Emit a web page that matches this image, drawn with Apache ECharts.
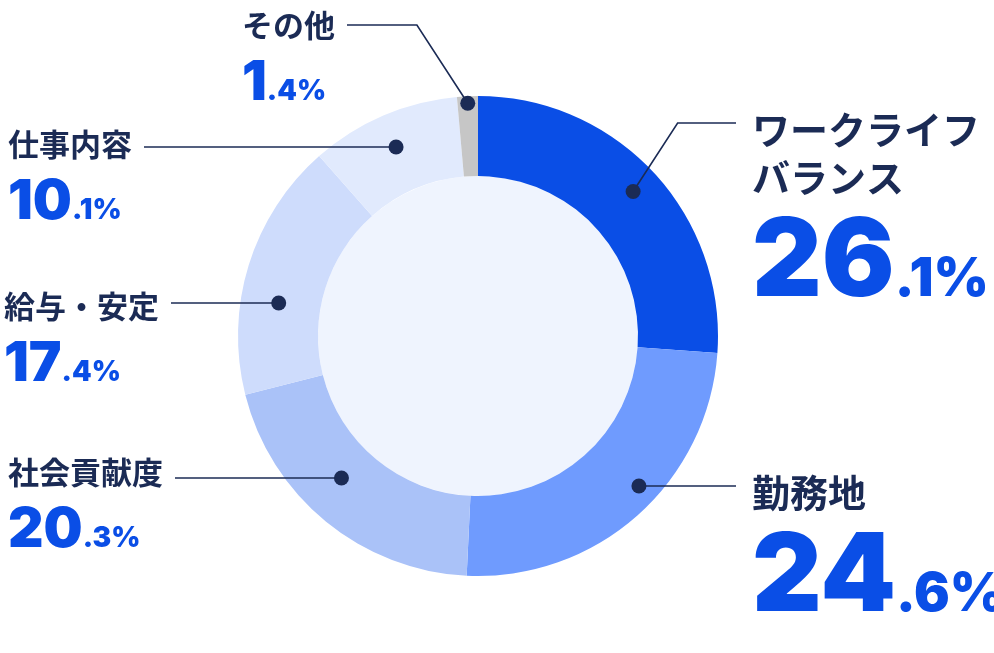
<!DOCTYPE html>
<html><head><meta charset="utf-8">
<script src="https://cdn.jsdelivr.net/npm/echarts@6/dist/echarts.min.js"></script>
<style>html,body{margin:0;padding:0;background:#fff}#c{width:994px;height:653px}</style>
</head><body><div id="c"></div>
<script>
// ---- data ----
const categories = ['ワークライフ\nバランス', '勤務地', '社会貢献度', '給与・安定', '仕事内容', 'その他'];
const values = [26.1, 24.6, 20.3, 17.4, 10.1, 1.4];
const sliceColors = ['#0A4EE6', '#6F9BFE', '#AAC2F8', '#CEDCFC', '#E1EAFD', '#C6C6C6'];

// ---- layout / style ----
const CX = 478, CY = 336, R_IN = 160, R_OUT = 240;
const NAVY = '#1B2B55', BLUE = '#0A4EE6';
const labelCfg = [
  { side: 'right', x: 752, top: 106, lineY: 123, bend: true, dotR: 212 },
  { side: 'right', x: 752, top: 469, lineY: 486, dotR: 220 },
  { side: 'left',  x: 8,   top: 452, lineY: 478, dotR: 197 },
  { side: 'left',  x: 4,   top: 286, lineY: 303, dotR: 202 },
  { side: 'left',  x: 8,   top: 124, lineY: 147, dotR: 206 },
  { side: 'left',  x: 242, top: 5,   lineY: 25,  bend: true, dotR: 233 }
];
const FONT_NAME = { right: 38, left: 31 };

const total = values.reduce((a, b) => a + b, 0);
// dot position (polar: [radius, angle clockwise from top])
const dots = values.map((v, i) => {
  const L = labelCfg[i];
  let ang;
  if (L.bend) {
    const before = values.slice(0, i).reduce((a, b) => a + b, 0);
    ang = (before + v / 2) / total * 360;
  } else {
    const dy = L.lineY - CY;
    const dx = Math.sqrt(L.dotR * L.dotR - dy * dy) * (L.side === 'right' ? 1 : -1);
    ang = Math.atan2(dx, -dy) * 180 / Math.PI;
    if (ang < 0) ang += 360;
  }
  return [L.dotR, ang];
});

const chart = echarts.init(document.getElementById('c'));
chart.setOption({
  animation: false,
  polar: { center: [CX, CY], radius: R_OUT },
  angleAxis: { type: 'value', min: 0, max: 360, startAngle: 90, clockwise: true, show: false },
  radiusAxis: { type: 'value', min: 0, max: R_OUT, show: false },
  series: [
    {
      type: 'pie', center: [CX, CY], radius: [0, R_IN], silent: true, z: 1,
      label: { show: false }, labelLine: { show: false },
      data: [{ value: 1, itemStyle: { color: '#EFF4FE' } }]
    },
    {
      type: 'pie', center: [CX, CY], radius: [R_IN, R_OUT], startAngle: 90, clockwise: true,
      avoidLabelOverlap: false, silent: true, z: 2,
      data: categories.map((c, i) => ({ name: c, value: values[i], itemStyle: { color: sliceColors[i] } })),
      label: {
        show: true, position: 'outside',
        formatter: p => {
          const i = p.dataIndex;
          const parts = values[i].toFixed(1).split('.');
          const s = labelCfg[i].side === 'right' ? 'R' : 'L';
          return `{n${s}|${categories[i]}}\n{sp${s}| }\n{b${s}|${parts[0]}}{s${s}|.${parts[1]}%}`;
        },
        rich: {
          nR: { fontFamily: 'Noto Sans CJK JP', fontWeight: 'bold', fontSize: 38, lineHeight: 48, color: NAVY },
          spR: { fontSize: 2, lineHeight: 8 },
          bR: { fontFamily: 'Inter', fontWeight: 900, fontSize: 108, lineHeight: 108, color: BLUE, verticalAlign: 'bottom' },
          sR: { fontFamily: 'Inter', fontWeight: 900, fontSize: 53, lineHeight: 53, color: BLUE, verticalAlign: 'bottom', padding: [0, 0, 11, 0] },
          nL: { fontFamily: 'Noto Sans CJK JP', fontWeight: 'bold', fontSize: 31, lineHeight: 40, color: NAVY },
          spL: { fontSize: 2, lineHeight: 11 },
          bL: { fontFamily: 'Inter', fontWeight: 900, fontSize: 55, lineHeight: 55, color: BLUE, verticalAlign: 'bottom' },
          sL: { fontFamily: 'Inter', fontWeight: 900, fontSize: 28, lineHeight: 28, color: BLUE, verticalAlign: 'bottom', padding: [0, 0, 5, 0] }
        }
      },
      labelLine: { show: false },
      labelLayout: p => {
        const L = labelCfg[p.dataIndex];
        return { x: L.x, y: L.top, align: 'left', verticalAlign: 'top' };
      }
    },
    {
      type: 'custom', coordinateSystem: 'polar', silent: true, z: 5,
      data: dots,
      renderItem: (params, api) => {
        const i = params.dataIndex, L = labelCfg[i];
        const d = api.coord([api.value(0), api.value(1)]);
        const nameW = categories[i].split('\n')[0].length * FONT_NAME[L.side];
        const endX = L.side === 'right' ? L.x - 16 : L.x + nameW + 12;
        let elbow;
        if (L.bend) {
          const off = (d[1] - L.lineY) * 0.65;
          elbow = [d[0] + (L.side === 'right' ? off : -off), L.lineY];
        } else {
          elbow = [(d[0] + endX) / 2, L.lineY];
        }
        return {
          type: 'group',
          children: [
            { type: 'polyline', shape: { points: [d, elbow, [endX, L.lineY]] }, style: { stroke: NAVY, lineWidth: 1.6, fill: null } },
            { type: 'circle', shape: { cx: d[0], cy: d[1], r: 7.5 }, style: { fill: NAVY } }
          ]
        };
      }
    }
  ]
});
</script>
</body></html>
